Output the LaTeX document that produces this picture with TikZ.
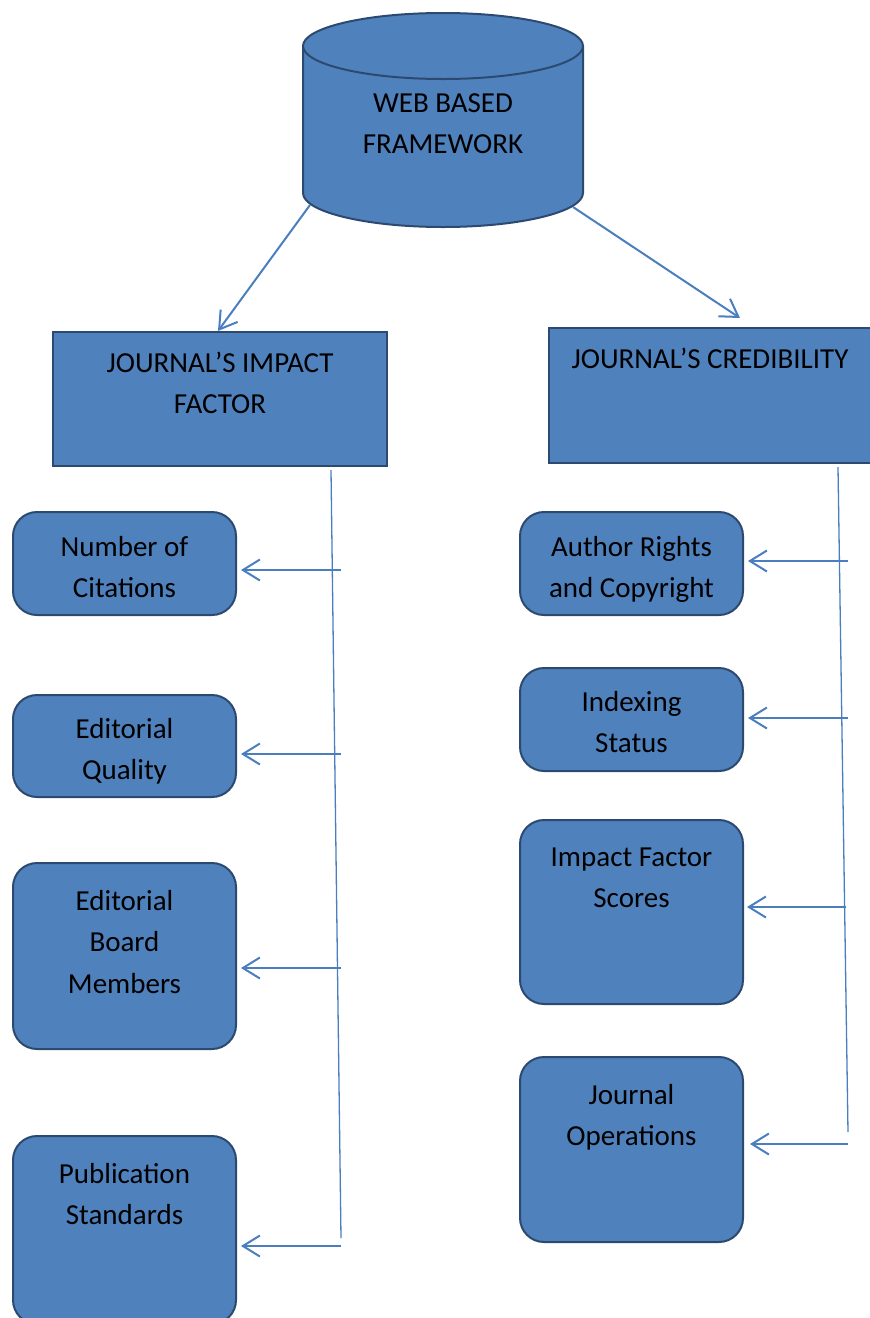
\documentclass[tikz,border=0pt]{standalone}
\usepackage{fontspec}
\setmainfont{Carlito}
\usetikzlibrary{arrows.meta}
\definecolor{boxfill}{HTML}{4F81BD}
\definecolor{boxline}{HTML}{2C4A70}
\definecolor{arrcol}{HTML}{4A7EBF}
\tikzset{
  box/.style={draw=boxline, line width=2pt, fill=boxfill, inner sep=0pt, rectangle},
  rbox/.style={box, rounded corners=24pt},
  lbl/.style={align=center, anchor=base, inner sep=0pt,
    font=\fontsize{29}{41.5}\selectfont},
  arr/.style={draw=arrcol, line width=2pt, -{Straight Barb[length=17pt,width=21pt,line width=2pt]}},
  vline/.style={draw=arrcol, line width=1.3pt}
}
\begin{document}
\begin{tikzpicture}[x=1pt,y=-1pt]
\useasboundingbox (0,0) rectangle (870,1318);
% cylinder
\fill[boxfill] (303,46) -- (303,193) arc[start angle=180,end angle=0,x radius=140,y radius=34] -- (583,46) -- cycle;
\draw[boxline, line width=2pt] (303,46) -- (303,193) arc[start angle=180,end angle=0,x radius=140,y radius=34] -- (583,46);
\draw[boxline, line width=2pt, fill=boxfill] (443,46) ellipse[x radius=140, y radius=33];
\node[lbl] (cyl) at (443,153.5) {WEB BASED\\FRAMEWORK};
\coordinate (cl) at (310,205);
\coordinate (cr) at (573,207);

% level 2 boxes
\node[box, minimum width=334pt, minimum height=134pt] (jif) at (220,399) {};
\node[lbl] (jift) at (220,413.5) {JOURNAL’S IMPACT\\FACTOR};
\node[box, minimum width=336pt, minimum height=135pt] (jc) at (717,395.5) {};
\node[lbl] (jct) at (710,368) {JOURNAL’S CREDIBILITY};
\coordinate (jcin) at (740,318);

\draw[arr] (cl) -- (jif.north -| 218,0);
\draw[arr] (cr) -- (jcin);

% left boxes
\node[rbox, minimum width=223pt, minimum height=103pt] (nc) at (124.5,563.5) {};
\node[lbl] (nct) at (124.5,597.5) {Number of\\Citations};
\node[rbox, minimum width=223pt, minimum height=102pt] (eq) at (124.5,746) {};
\node[lbl] (eqt) at (124.5,779.5) {Editorial\\Quality};
\node[rbox, minimum width=223pt, minimum height=186pt] (eb) at (124.5,956) {};
\node[lbl] (ebt) at (124.5,993) {Editorial\\Board\\Members};
\node[rbox, minimum width=223pt, minimum height=188pt] (ps) at (124.5,1230) {};
\node[lbl] (pst) at (124.5,1224.5) {Publication\\Standards};

% right boxes
\node[rbox, minimum width=223pt, minimum height=103pt] (ar) at (631.5,563.5) {};
\node[lbl] (art) at (631.5,597.5) {Author Rights\\and Copyright};
\node[rbox, minimum width=223pt, minimum height=103pt] (is) at (631.5,719.5) {};
\node[lbl] (ist) at (631.5,752.5) {Indexing\\Status};
\node[rbox, minimum width=223pt, minimum height=184pt] (if) at (631.5,912) {};
\node[lbl] (ift) at (631.5,907.5) {Impact Factor\\Scores};
\node[rbox, minimum width=223pt, minimum height=185pt] (jo) at (631.5,1149.5) {};
\node[lbl] (jot) at (631.5,1145.5) {Journal\\Operations};

% left vertical line and arrows
\coordinate (lt) at (331,470);
\coordinate (lb) at (341,1238);
\draw[vline] (lt) -- (lb);
\coordinate (l1) at (341,570);
\coordinate (l2) at (341,754);
\coordinate (l3) at (341,968);
\coordinate (l4) at (341,1246);
\draw[arr] (l1) -- ([xshift=4pt]l1 -| nc.east);
\draw[arr] (l2) -- ([xshift=4pt]l2 -| eq.east);
\draw[arr] (l3) -- ([xshift=4pt]l3 -| eb.east);
\draw[arr] (l4) -- ([xshift=4pt]l4 -| ps.east);

% right vertical line and arrows
\coordinate (rt) at (838,467);
\coordinate (rb) at (848,1132);
\draw[vline] (rt) -- (rb);
\coordinate (r1) at (848,561);
\coordinate (r2) at (848,718);
\coordinate (r3) at (846,907);
\coordinate (r4) at (848,1144);
\draw[arr] (r1) -- ([xshift=4pt]r1 -| ar.east);
\draw[arr] (r2) -- ([xshift=4pt]r2 -| is.east);
\draw[arr] (r3) -- ([xshift=3pt]r3 -| if.east);
\draw[arr] (r4) -- ([xshift=6pt]r4 -| jo.east);
\end{tikzpicture}
\end{document}
